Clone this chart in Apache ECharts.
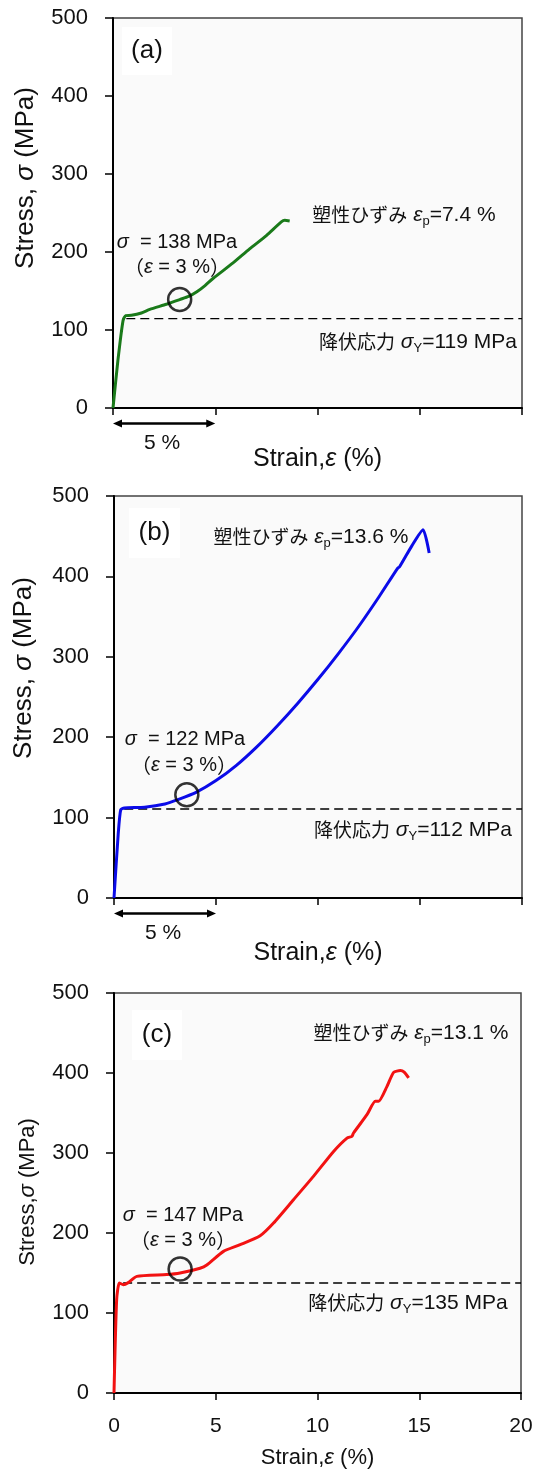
<!DOCTYPE html>
<html>
<head>
<meta charset="utf-8">
<script src="https://cdn.jsdelivr.net/npm/echarts@6/dist/echarts.min.js"></script>
<style>
html, body { margin: 0; padding: 0; background: #fff; }
#main { width: 538px; height: 1470px; }
</style>
</head>
<body>
<div id="main"></div>
<script>
// (a) 塑性ひずみ 7.4 %
var strainA = [0, 0.24, 0.49, 0.62, 0.9, 1.39, 1.8, 2.61, 3.26, 3.7, 4.1, 4.5, 4.89, 5.87, 6.68, 7.5, 8.23, 8.4, 8.64];
var stressA = [0, 61, 112, 118.5, 118.8, 121.8, 126.5, 133, 139, 143, 149, 157, 166, 186, 204, 221, 238.5, 240.6, 239.7];
// (b) 塑性ひずみ 13.6 %
var strainB = [0, 0.21, 0.33, 0.5, 1.5, 2.5, 3.2, 4.0, 5.0, 6.0, 7.0, 8.0, 9.0, 10.0, 11.0, 12.0, 13.0, 13.9, 14.0, 14.6, 15.15, 15.45];
var stressB = [0, 81, 110, 112, 113, 117, 123, 131, 146, 165, 188, 214, 242, 272, 304, 338, 375, 410, 412, 438, 458, 429];
// (c) 塑性ひずみ 13.1 %
var strainC = [0, 0.13, 0.26, 0.46, 0.7, 1.12, 2.59, 3.25, 4.23, 4.56, 5.38, 6.2, 7.18, 7.84, 8.82, 9.8, 10.79, 11.45, 11.69, 11.77, 12.43, 12.84, 13.0, 13.41, 13.74, 14.07, 14.26, 14.48];
var stressC = [0, 116.6, 137.5, 135.4, 138, 145.8, 148, 150, 156, 160, 177, 185.4, 196.6, 212.5, 241.6, 270.8, 302, 318.7, 320.8, 325, 347.9, 364.6, 364.6, 383, 400.8, 403, 401, 393.8];

// 降伏応力の破線 [start strain, end strain], stress
var yieldStrain = [[0.65, 20], [0.5, 20], [0.45, 20]];
var yieldStress = [114.6, 110.7, 137.5];
// ε = 3 % の丸印
var markStrain = [3.26, 3.57, 3.25];
var markStress = [139, 128.4, 155];

var yTicks = [0, 100, 200, 300, 400, 500];
var xTicks = [0, 5, 10, 15, 20];
var colors = ['#1a7a1a', '#0b0be8', '#f21212'];

var latin = "'Liberation Sans', Arial, sans-serif";
var cjk = "'Noto Sans CJK JP', sans-serif";

function pairs(xs, ys) {
    var out = [];
    for (var i = 0; i < xs.length; i++) out.push([xs[i], ys[i]]);
    return out;
}

var myChart = echarts.init(document.getElementById('main'), null, { renderer: 'canvas' });

var grids = [
    { left: 113, top: 18, width: 409, height: 390 },
    { left: 114, top: 496, width: 408, height: 402 },
    { left: 114, top: 993, width: 407, height: 400 }
];
var nameGaps = [39, 43, 54];
var nameSizes = [25, 25, 22];

var option = {
    animation: false,
    backgroundColor: '#fff',
    grid: grids.map(function (g) {
        return {
            left: g.left, top: g.top, width: g.width, height: g.height,
            show: true, backgroundColor: '#fafafa', borderColor: '#444', borderWidth: 1.5
        };
    }),
    xAxis: [0, 1, 2].map(function (i) {
        return {
            type: 'value', gridIndex: i,
            min: xTicks[0], max: xTicks[xTicks.length - 1], interval: 5,
            name: 'Strain,{i|ε} (%)',
            nameLocation: 'middle',
            nameGap: nameGaps[i],
            nameTextStyle: {
                color: '#111', fontFamily: latin, fontSize: nameSizes[i],
                rich: { i: { fontStyle: 'italic', fontFamily: latin, fontSize: nameSizes[i], color: '#111' } }
            },
            axisLine: { show: true, onZero: false, lineStyle: { color: '#000', width: 2 } },
            axisTick: { show: true, inside: false, length: 7, lineStyle: { color: '#000', width: 1.5 } },
            axisLabel: { show: i === 2, margin: 23, color: '#111', fontFamily: latin, fontSize: 21 },
            splitLine: { show: false }
        };
    }),
    yAxis: [0, 1, 2].map(function (i) {
        return {
            type: 'value', gridIndex: i,
            min: yTicks[0], max: yTicks[yTicks.length - 1], interval: 100,
            axisLine: { show: true, onZero: false, lineStyle: { color: '#000', width: 2 } },
            axisTick: { show: true, inside: false, length: 8, lineStyle: { color: '#000', width: 1.5 } },
            axisLabel: { margin: 25, color: '#111', fontFamily: latin, fontSize: 22 },
            splitLine: { show: false }
        };
    }),
    series: []
};

var curves = [pairs(strainA, stressA), pairs(strainB, stressB), pairs(strainC, stressC)];
for (var k = 0; k < 3; k++) {
    option.series.push({
        type: 'line', xAxisIndex: k, yAxisIndex: k, z: 2,
        data: [[yieldStrain[k][0], yieldStress[k]], [yieldStrain[k][1], yieldStress[k]]],
        symbol: 'none', silent: true, clip: false,
        lineStyle: { color: '#000', width: 1.4, type: [9, 5] }
    });
    option.series.push({
        type: 'line', xAxisIndex: k, yAxisIndex: k, z: 3,
        data: curves[k], symbol: 'none', smooth: 0.2,
        lineStyle: { color: colors[k], width: 3 }
    });
    option.series.push({
        type: 'scatter', xAxisIndex: k, yAxisIndex: k, z: 4,
        data: [[markStrain[k], markStress[k]]],
        symbol: 'circle', symbolSize: 23,
        itemStyle: { color: 'rgba(0,0,0,0)', borderColor: '#000', borderWidth: 2.5 }
    });
}

myChart.setOption(option);

// ---- 注記 ----
var rich = {
    j: { fontFamily: cjk, fontSize: 19, lineHeight: 26, fill: '#111', color: '#111' },
    n: { fontFamily: latin, fontSize: 21, lineHeight: 26, fill: '#111', color: '#111' },
    i: { fontFamily: latin, fontStyle: 'italic', fontSize: 21, lineHeight: 26, fill: '#111', color: '#111' },
    s: { fontFamily: latin, fontSize: 13, verticalAlign: 'bottom', fill: '#111', color: '#111' }
};

function txt(x, y, text, size, rot) {
    var r = {};
    for (var key in rich) {
        r[key] = Object.assign({}, rich[key]);
        if (size && key !== 's') { r[key].fontSize = size; r[key].lineHeight = size + 5; }
    }
    return {
        type: 'text', x: x, y: y, z: 100, rotation: rot || 0,
        style: {
            text: text, rich: r, fill: '#111',
            font: (size || 21) + 'px ' + latin,
            align: 'center', verticalAlign: 'middle',
            textAlign: 'center', textVerticalAlign: 'middle'
        }
    };
}

var epLabels = ['7.4', '13.6', '13.1'];
var syLabels = ['119', '112', '135'];
var s3Labels = ['138', '122', '147'];
var tags = ['(a)', '(b)', '(c)'];

var epPos = [[404, 215], [311, 537], [411, 1033]];
var syPos = [[418, 342], [413, 830], [408, 1303]];
var s3Pos = [[177, 242], [185, 739], [183, 1215]];
var e3Pos = [[177, 267], [184, 765], [183, 1240]];
var tagBox = [[122, 27, 50, 48], [129, 508, 51, 50], [132, 1010, 50, 50]];
var yNamePos = [[26, 178, 26, 'Stress, {i|σ} (MPa)'], [24, 668, 26, 'Stress, {i|σ} (MPa)'], [28, 1192, 22, 'Stress,{i|σ} (MPa)']];

var graphics = [];
for (var g = 0; g < 3; g++) {
    var b = tagBox[g];
    graphics.push({ type: 'rect', z: 90, shape: { x: b[0], y: b[1], width: b[2], height: b[3] }, style: { fill: '#fff' } });
    graphics.push(txt(b[0] + b[2] / 2, b[1] + b[3] / 2, '{n|' + tags[g] + '}', 26));
    graphics.push(txt(epPos[g][0], epPos[g][1], '{j|塑性ひずみ}{n| }{i|ε}{s|p}{n|=' + epLabels[g] + ' %}'));
    graphics.push(txt(syPos[g][0], syPos[g][1], '{j|降伏応力}{n| }{i|σ}{s|Y}{n|=' + syLabels[g] + ' MPa}'));
    graphics.push(txt(s3Pos[g][0], s3Pos[g][1], '{i|σ}{n|  = ' + s3Labels[g] + ' MPa}', 20));
    graphics.push(txt(e3Pos[g][0], e3Pos[g][1], '{j|（}{i|ε}{n| = 3 %}{j|）}', 20));
    var yn = yNamePos[g];
    graphics.push(txt(yn[0], yn[1], yn[3].replace(/^([^{]*)/, '{n|$1}').replace(/\}([^{]+)$/, '}{n|$1}'), yn[2], Math.PI / 2));
}

// 5 % の矢印 (a), (b)
for (var m = 0; m < 2; m++) {
    var p0 = myChart.convertToPixel({ xAxisIndex: m, yAxisIndex: m }, [0, 0]);
    var p5 = myChart.convertToPixel({ xAxisIndex: m, yAxisIndex: m }, [5, 0]);
    var ay = p0[1] + 15.5;
    graphics.push({ type: 'line', z: 100, shape: { x1: p0[0] + 4, y1: ay, x2: p5[0] - 4, y2: ay }, style: { stroke: '#000', lineWidth: 2.5 } });
    graphics.push({ type: 'polygon', z: 100, shape: { points: [[p0[0], ay], [p0[0] + 9, ay - 4], [p0[0] + 9, ay + 4]] }, style: { fill: '#000' } });
    graphics.push({ type: 'polygon', z: 100, shape: { points: [[p5[0], ay], [p5[0] - 9, ay - 4], [p5[0] - 9, ay + 4]] }, style: { fill: '#000' } });
    graphics.push(txt((p0[0] + p5[0]) / 2 - 2, ay + 20, '{n|5 %}', 21));
}

myChart.setOption({ graphic: graphics });
</script>
</body>
</html>
